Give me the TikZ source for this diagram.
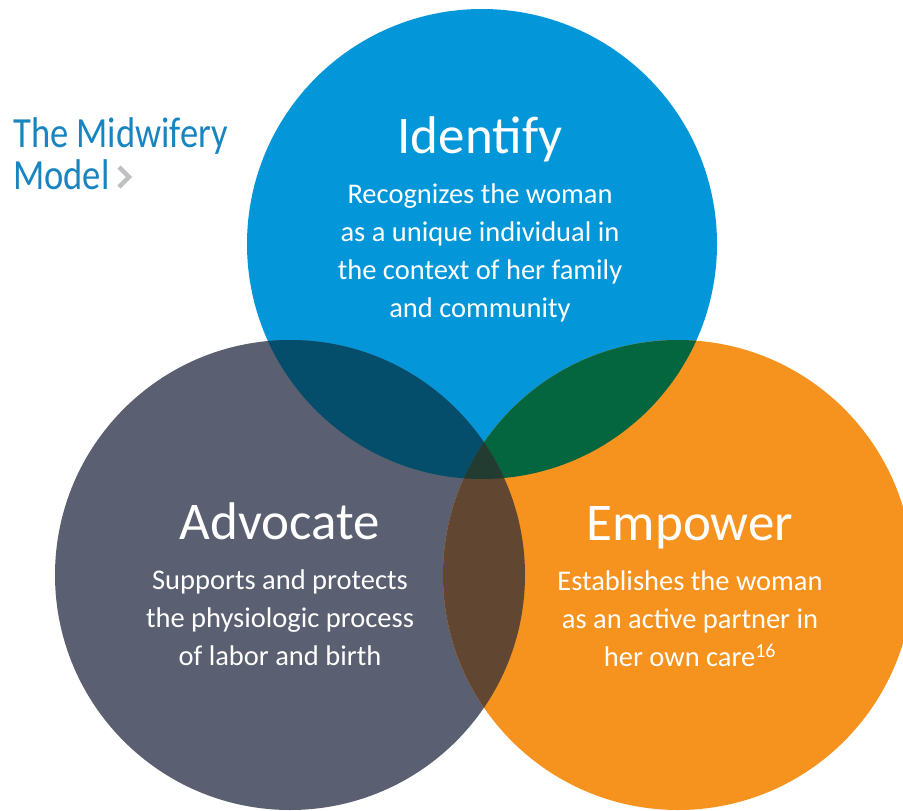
\documentclass[tikz,border=0pt]{standalone}
\usepackage{fontspec}
\setmainfont{Carlito}
\newfontfamily\titlefont[FakeStretch=0.85]{Carlito}
\usetikzlibrary{positioning}
\definecolor{mwblue}{RGB}{3,151,217}
\definecolor{mwgray}{RGB}{90,96,113}
\definecolor{mworange}{RGB}{246,147,30}
\definecolor{mwnavy}{RGB}{4,78,108}
\definecolor{mwgreen}{RGB}{3,102,63}
\definecolor{mwbrown}{RGB}{97,70,49}
\definecolor{mwdark}{RGB}{34,60,49}
\definecolor{mwtitle}{RGB}{24,132,192}
\definecolor{mwchevron}{RGB}{190,192,196}
\tikzstyle{heading} = [text=white, font=\fontsize{53}{60}\selectfont, inner sep=0pt, anchor=base]
\tikzstyle{body} = [text=white, font=\fontsize{28.5}{38}\selectfont, align=center, inner sep=0pt, anchor=north]

\begin{document}
\begin{tikzpicture}[x=1pt, y=-1pt]
\useasboundingbox (0,0) rectangle (903,811);
\coordinate (idc) at (482,244);
\coordinate (adc) at (290,575);
\coordinate (emc) at (678,575);

% Circles
\fill[mwblue] (idc) circle (235pt);
\fill[mwgray] (adc) circle (235pt);
\fill[mworange] (emc) circle (235pt);

% Overlaps
\begin{scope}
\clip (idc) circle (235pt);
\fill[mwnavy] (adc) circle (235pt);
\fill[mwgreen] (emc) circle (235pt);
\end{scope}
\begin{scope}
\clip (adc) circle (235pt);
\fill[mwbrown] (emc) circle (235pt);
\clip (idc) circle (235pt);
\fill[mwdark] (emc) circle (235pt);
\end{scope}

% Title
\node[font=\titlefont\fontsize{43}{42}\selectfont, text=mwtitle, align=left, inner sep=0pt, anchor=base west] (title) at (13,189) {The Midwifery\\Model};
\draw[mwchevron, line width=4.5pt] (119,167) -- (129,177) -- (119,187);

% Identify
\node[heading] (idhead) at (480,153) {Identify};
\node[body, below=31pt of idhead.base] (idtext) {Recognizes the woman\\as a unique individual in\\the context of her family\\and community};

% Advocate
\node[heading] (adhead) at (280,539) {Advocate};
\node[body, below=31pt of adhead.base] (adtext) {Supports and protects\\the physiologic process\\of labor and birth};

% Empower
\node[heading] (emhead) at (690,540) {Empower};
\node[body, below=31pt of emhead.base] (emtext) {Establishes the woman\\as an active partner in\\her own care\textsuperscript{16}};
\end{tikzpicture}
\end{document}
